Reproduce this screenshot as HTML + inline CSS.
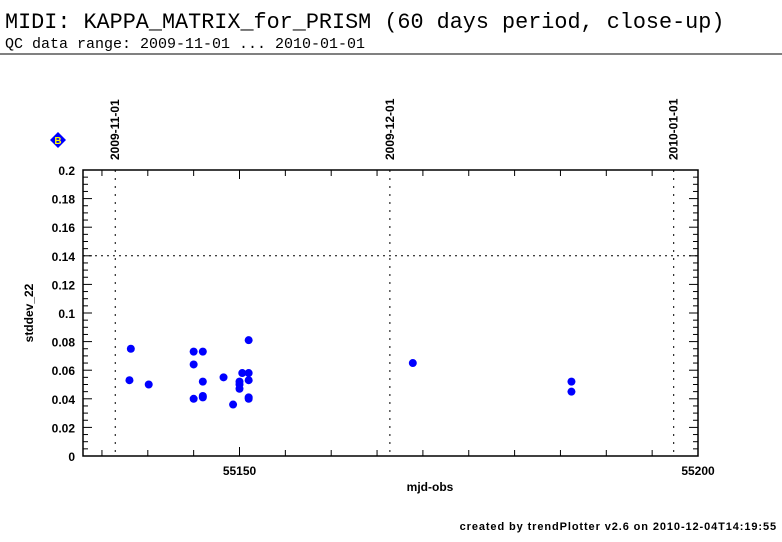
<!DOCTYPE html>
<html><head><meta charset="utf-8"><style>
body{margin:0;background:#fff;width:782px;height:542px;overflow:hidden}
svg{display:block}
text{font-family:"Liberation Sans",sans-serif;font-weight:bold;fill:#000}
.mono{font-family:"Liberation Mono",monospace;font-weight:normal}
</style></head><body>
<svg id="chart" width="782" height="542">
<text class="mono" x="5" y="28" font-size="21.8">MIDI: KAPPA_MATRIX_for_PRISM (60 days period, close-up)</text>
<text class="mono" x="5" y="48" font-size="15">QC data range: 2009-11-01 ... 2010-01-01</text>
<line x1="0" y1="54" x2="782" y2="54" stroke="#000" stroke-width="1"/>
<g>
<polygon points="58,132 66,140 58,148 50,140" fill="#0000ff"/>
<text x="58" y="144" font-size="10" text-anchor="middle" style="fill:#ffff00">B</text>
</g>
<g id="plot"></g>
<text x="430" y="491" font-size="12" text-anchor="middle">mjd-obs</text>
<text x="33" y="313" font-size="12" text-anchor="middle" transform="rotate(-90 33 313)">stddev_22</text>
<text x="777" y="530" font-size="11" text-anchor="end" letter-spacing="0.9">created by trendPlotter v2.6 on 2010-12-04T14:19:55</text>
</svg>
<script>
const xs=[55138.15,55138.0,55140.1,55145.0,55146.0,55145.0,55146.0,55145.0,55146.0,55146.0,55148.26,55149.3,55150.0,55150.0,55150.0,55150.3,55151.0,55151.0,55151.0,55151.0,55151.0,55168.9,55186.2,55186.2];
const ys=[0.075,0.053,0.050,0.073,0.073,0.064,0.052,0.040,0.042,0.041,0.055,0.036,0.052,0.050,0.047,0.058,0.081,0.058,0.053,0.041,0.040,0.065,0.052,0.045];
const yTicks=[0,0.02,0.04,0.06,0.08,0.1,0.12,0.14,0.16,0.18,0.2];
const xTickLabels=[55150,55200];
const dateLabels=["2009-11-01","2009-12-01","2010-01-01"];
const dateMjd=[55136.45,55166.4,55197.35];
const threshold=0.14;
const L=83,R=698,T=170,B=456;
const X=d=>239.5+(d-55150)*9.17;
const Y=v=>B-(v/0.2)*(B-T);
const g=document.getElementById('plot');
const NS='http://www.w3.org/2000/svg';
function el(t,a){const e=document.createElementNS(NS,t);for(const k in a)e.setAttribute(k,a[k]);g.appendChild(e);return e;}
let f=el('rect',{x:L,y:T,width:R-L,height:B-T,fill:'none',stroke:'#000','stroke-width':1.5});


for(let v=0;v<=0.2001;v+=0.005){const y=Y(v);const maj=Math.abs(v/0.02-Math.round(v/0.02))<1e-6;const len=maj?9:5;
el('line',{x1:L,y1:y,x2:L+len,y2:y,stroke:'#000','stroke-width':1});el('line',{x1:R,y1:y,x2:R-len,y2:y,stroke:'#000','stroke-width':1});}
yTicks.forEach(v=>{const t=el('text',{x:L-8,y:Y(v)+5,'font-size':12,'text-anchor':'end'});t.textContent=String(+v.toFixed(2));

});
for(let d=55135;d<=55200;d+=5){const x=X(d);const len=d%50==0?9:6;
el('line',{x1:x,y1:B,x2:x,y2:B-len,stroke:'#000','stroke-width':1});el('line',{x1:x,y1:T,x2:x,y2:T+len,stroke:'#000','stroke-width':1});}
xTickLabels.forEach(d=>{const t=el('text',{x:X(d),y:B+19,'font-size':12,'text-anchor':'middle'});t.textContent=d;

});
dateLabels.forEach((s,i)=>{const x=X(dateMjd[i]);
const l=el('line',{x1:x,y1:T,x2:x,y2:B,stroke:'#000','stroke-width':1,'stroke-dasharray':'2,6'});


const t=el('text',{x:x+4,y:160,'font-size':12,transform:`rotate(-90 ${x+4} 160)`});t.textContent=s;

});
const th=el('line',{x1:L,y1:Y(threshold),x2:R,y2:Y(threshold),stroke:'#000','stroke-width':1,'stroke-dasharray':'2,4'});


xs.forEach((d,i)=>{const c=el('circle',{cx:X(d),cy:Y(ys[i]),r:4,fill:'#0000ff'});

});
</script>
</body></html>
